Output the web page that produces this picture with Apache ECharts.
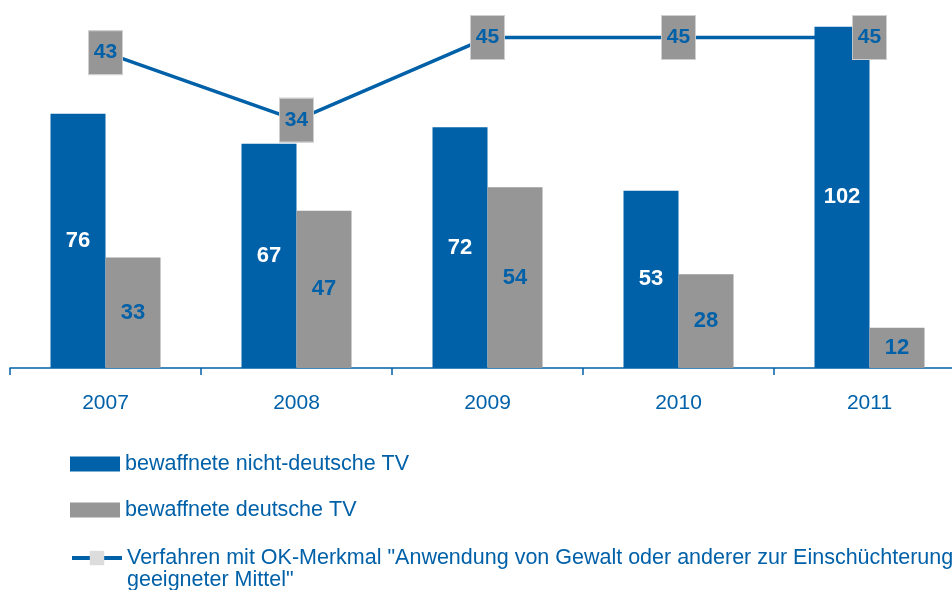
<!DOCTYPE html>
<html>
<head>
<meta charset="utf-8">
<script src="https://cdn.jsdelivr.net/npm/echarts@6/dist/echarts.min.js"></script>
<style>
  html, body { margin: 0; padding: 0; background: #fff; }
  #main { width: 952px; height: 590px; }
</style>
</head>
<body>
<div id="main"></div>
<script>
var years = ['2007', '2008', '2009', '2010', '2011'];
var nichtDeutsche = [76, 67, 72, 53, 102];
var deutsche = [33, 47, 54, 28, 12];
var okMerkmal = [43, 34, 45, 45, 45];

var blue = '#0060a8';
var grey = '#969696';
var font = '"Liberation Sans", Arial, sans-serif';
var barNames = ['bewaffnete nicht-deutsche TV', 'bewaffnete deutsche TV'];
var lineName = 'Verfahren mit OK-Merkmal "Anwendung von Gewalt oder anderer zur Einschüchterung geeigneter Mittel"';

var chartDom = document.getElementById('main');
var myChart = echarts.init(chartDom);
var option;

var legendText = {
    color: blue,
    fontSize: 21.5,
    fontFamily: font,
    lineHeight: 22
};

option = {
    backgroundColor: '#fff',
    animation: false,
    textStyle: { fontFamily: font },
    grid: {
        left: 10,
        right: -13,
        top: 0,
        height: 368,
        outerBoundsMode: 'none'
    },
    legend: [{
        orient: 'vertical',
        left: 70,
        top: 453,
        padding: 0,
        itemWidth: 50,
        itemHeight: 15,
        itemGap: 24,
        icon: 'rect',
        textStyle: legendText,
        data: barNames
    }, {
        orient: 'vertical',
        left: 70,
        top: 525,
        padding: 0,
        itemWidth: 50,
        itemHeight: 18,
        textStyle: legendText,
        // leading blank line keeps the first text line level with the icon
        formatter: function (name) {
            return '\n' + name.replace(' geeigneter', '\ngeeigneter');
        },
        data: [{
            name: lineName,
            itemStyle: { color: '#dcdcdc', borderWidth: 0 },
            lineStyle: { width: 4 }
        }]
    }],
    xAxis: {
        type: 'category',
        data: years,
        axisLine: { lineStyle: { color: blue, width: 1.5 } },
        axisTick: { show: true, length: 7, lineStyle: { color: blue, width: 1.5 } },
        axisLabel: { color: blue, fontSize: 21, margin: 25, fontFamily: font }
    },
    yAxis: [{
        type: 'value',
        min: 0,
        max: 110,
        show: false
    }, {
        type: 'value',
        min: 1,
        max: 50,
        show: false
    }],
    series: [{
        name: barNames[0],
        type: 'bar',
        data: nichtDeutsche,
        barWidth: 55,
        barGap: '0%',
        itemStyle: { color: blue },
        label: {
            show: true,
            position: 'inside',
            color: '#fff',
            fontWeight: 'bold',
            fontSize: 22,
            fontFamily: font
        }
    }, {
        name: barNames[1],
        type: 'bar',
        data: deutsche,
        barWidth: 55,
        barGap: '0%',
        itemStyle: { color: grey },
        label: {
            show: true,
            position: 'inside',
            color: blue,
            fontWeight: 'bold',
            fontSize: 22,
            fontFamily: font
        }
    }, {
        name: lineName,
        type: 'line',
        yAxisIndex: 1,
        data: okMerkmal,
        symbol: 'rect',
        symbolSize: [34, 44],
        lineStyle: { color: blue, width: 3.5 },
        itemStyle: { color: grey, borderColor: '#d0d0d0', borderWidth: 1 },
        label: {
            show: true,
            position: 'inside',
            color: blue,
            fontWeight: 'bold',
            fontSize: 21,
            fontFamily: font
        },
        z: 5
    }]
};

option && myChart.setOption(option);
</script>
</body>
</html>
